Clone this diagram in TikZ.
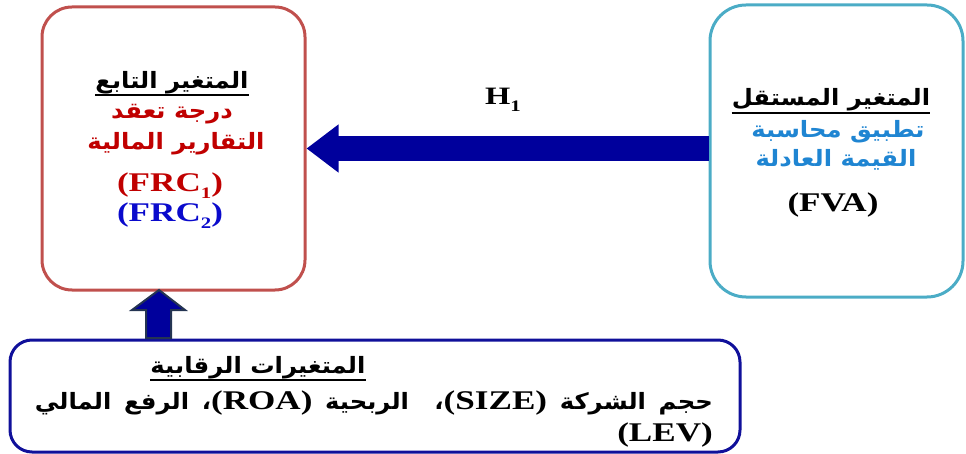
\documentclass[tikz,border=0pt]{standalone}
\usepackage{fontspec}
\setmainfont{Liberation Serif}[FakeStretch=1.3]
\newfontfamily\arabicfont[Script=Arabic,FakeStretch=1.08]{DejaVu Sans}
\TeXXeTstate=1
\usetikzlibrary{arrows.meta}
\definecolor{boxred}{HTML}{C0504D}
\definecolor{boxcyan}{HTML}{4BACC6}
\definecolor{boxnavy}{HTML}{10109A}
\definecolor{arrnavy}{HTML}{00009C}
\definecolor{arroutline}{HTML}{243452}
\definecolor{txtred}{HTML}{C00000}
\definecolor{txtblue}{HTML}{0A0ACC}
\definecolor{txtsky}{HTML}{1F85D2}
\newcommand\arsz{22.5}
\newcommand\ar[1]{{\arabicfont\bfseries\fontsize{\arsz}{\arsz}\selectfont\beginR #1\endR}}
\newcommand\la[2][27]{{\bfseries\fontsize{#1}{#1}\selectfont #2}}
\newcommand\lat[1]{\beginL{\rmfamily\bfseries\fontsize{27}{27}\selectfont #1}\endL}
\newcommand\sbs[1]{\raisebox{-0.25em}{\fontsize{16}{16}\selectfont #1}}
\begin{document}
\begin{tikzpicture}[x=1pt,y=-1pt,
  lbox/.style={draw=boxred, line width=3pt, rounded corners=30pt, minimum width=263pt, minimum height=283pt, inner sep=0pt},
  rbox/.style={draw=boxcyan, line width=3pt, rounded corners=36pt, minimum width=253pt, minimum height=292pt, inner sep=0pt},
  bbox/.style={draw=boxnavy, line width=3pt, rounded corners=22pt, minimum width=730pt, minimum height=112pt, inner sep=0pt},
  txt/.style={anchor=base, inner sep=0pt},
  uline/.style={line width=1.4pt, black},
  harrow/.style={draw=arrnavy, line width=25pt, -{Triangle[length=32pt,width=46pt]}},
  uparrow/.style={fill=arrnavy, draw=arroutline, line width=2pt, line join=miter}]
\useasboundingbox (0,0) rectangle (966,454);
\node[lbox] (dep) at (173.5,148.5) {};
\node[rbox] (ind) at (836.5,151) {};
\node[bbox] (ctl) at (375,396) {};
% horizontal arrow
\draw[harrow] (ind.west |- dep.east) -- (dep.east);
\node[txt] (h1) at (503,105) {\la[25]{H\sbs{1}}};
% up arrow
\coordinate (uptip) at (159,290);
\coordinate (upbase) at (159,338);
\draw[uparrow] (upbase) ++(-13,0) -- ++(0,-28) -- ++(-14,0) -- (uptip) -- ++(26,20) -- ++(-14,0) -- ++(0,28) -- cycle;
% left box text
\node[txt] (depT) at (172,89) {\ar{المتغير التابع}};
\draw[uline] ([yshift=-6pt]depT.base west) -- ([yshift=-6pt]depT.base east);
\node[txt, text=txtred] (dep2) at (172,119) {\ar{درجة تعقد}};
\node[txt, text=txtred] (dep3) at (176,150) {\ar{التقارير المالية}};
\node[txt, text=txtred] (dep4) at (170,192) {\la{(FRC\sbs{1})}};
\node[txt, text=txtblue] (dep5) at (170,222) {\la{(FRC\sbs{2})}};
% right box text
\node[txt] (indT) at (831,106) {\ar{المتغير المستقل}};
\draw[uline] ([yshift=-7pt]indT.base west) -- ([yshift=-7pt]indT.base east);
\node[txt, text=txtsky] (ind2) at (838,138) {\ar{تطبيق محاسبة}};
\node[txt, text=txtsky] (ind3) at (836,167) {\ar{القيمة العادلة}};
\node[txt] (ind4) at (833,212) {\la{(FVA)}};
% bottom box text
\node[txt] (ctlT) at (258,373) {\ar{المتغيرات الرقابية}};
\draw[uline] ([yshift=-7pt]ctlT.base west) -- ([yshift=-7pt]ctlT.base east);
\node[txt, anchor=base east] (ctl2) at (713,409) {\hbox to 678pt{\arabicfont\bfseries\fontsize{\arsz}{\arsz}\selectfont\beginR حجم\hfill الشركة\hfill\lat{(SIZE)}،\hfill\hfill الربحية\hfill\lat{(ROA)}،\hfill الرفع\hfill المالي\endR}};
\node[txt, anchor=base east] (ctl3) at (713,441) {\la{(LEV)}};
\end{tikzpicture}
\end{document}
